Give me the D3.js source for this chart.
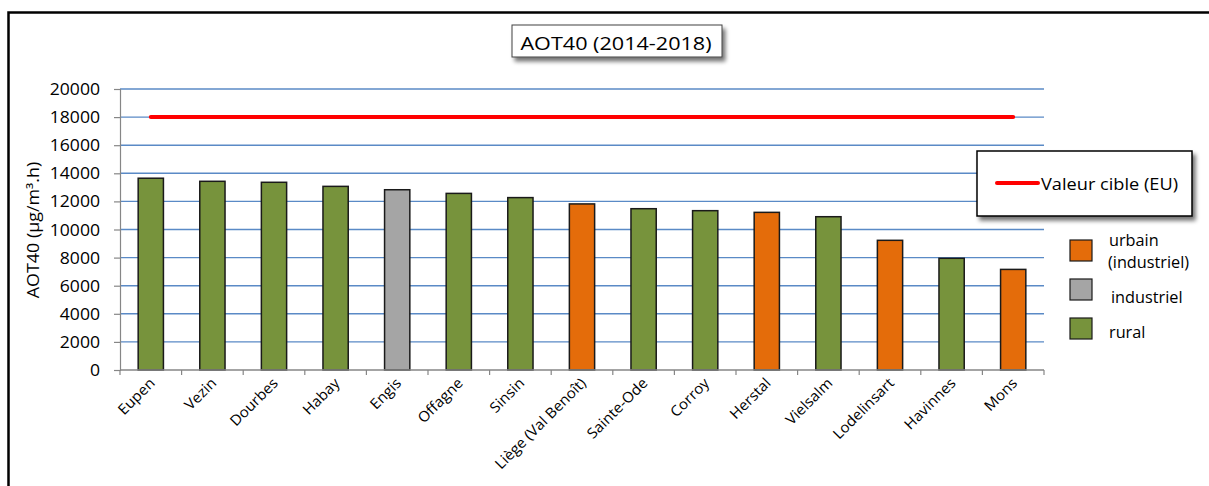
<!DOCTYPE html>
<html>
<head>
<meta charset="utf-8">
<script src="https://cdn.jsdelivr.net/npm/d3@7"></script>
<style>
  html, body { margin: 0; padding: 0; background: #fff; }
  svg { display: block; font-family: "Open Sans", Lato, sans-serif; }
</style>
</head>
<body>
<svg id="chart" width="1209" height="486"></svg>
<script>
// Stations, AOT40 values (µg/m³.h) and station type
const stations = ["Eupen", "Vezin", "Dourbes", "Habay", "Engis", "Offagne", "Sinsin",
  "Liège (Val Benoît)", "Sainte-Ode", "Corroy", "Herstal", "Vielsalm", "Lodelinsart", "Havinnes", "Mons"];
const aot40 = [13650, 13430, 13360, 13070, 12830, 12570, 12270, 11820, 11480, 11340, 11220, 10910, 9230, 7950, 7160];
const stationTypes = ["rural", "rural", "rural", "rural", "industriel", "rural", "rural",
  "urbain", "rural", "rural", "urbain", "rural", "urbain", "rural", "urbain"];
const targetValue = 18000;
const yTicks = [0, 2000, 4000, 6000, 8000, 10000, 12000, 14000, 16000, 18000, 20000];
const typeKeys = ["urbain", "industriel", "rural"];
const typeLabels = [["urbain", "(industriel)"], ["industriel"], ["rural"]];
const typeColors = ["#e46c0a", "#a5a5a5", "#77933c"];

const svg = d3.select("#chart");
const plot = { left: 120, right: 1044, top: 89, bottom: 370 };

const x = d3.scaleBand().domain(stations).range([plot.left, plot.right]).paddingInner(0.59).paddingOuter(0.295);
const xEdges = d3.scaleBand().domain(stations).range([plot.left, plot.right]);
const y = d3.scaleLinear().domain([0, 20000]).range([plot.bottom, plot.top]);
const color = d3.scaleOrdinal().domain(typeKeys).range(typeColors);

// Text helper: the chart's lettering is slightly wide, so glyphs get a horizontal stretch
function label(parent, px, py, str, size, sx, anchor = "start", rotate = 0) {
  return parent.append("text")
    .attr("transform", `translate(${px},${py}) rotate(${rotate}) scale(${sx},1)`)
    .attr("text-anchor", anchor)
    .attr("font-size", size)
    .attr("fill", "#000")
    .text(str);
}

// Drop shadow for the boxed title and legend
const defs = svg.append("defs");
const shadow = defs.append("filter").attr("id", "shadow").attr("x", "-10%").attr("y", "-20%").attr("width", "130%").attr("height", "160%");
shadow.append("feGaussianBlur").attr("in", "SourceAlpha").attr("stdDeviation", 2.2);
shadow.append("feOffset").attr("dx", 3).attr("dy", 4).attr("result", "off");
shadow.append("feComponentTransfer").append("feFuncA").attr("type", "linear").attr("slope", 0.55);
const merge = shadow.append("feMerge");
merge.append("feMergeNode");
merge.append("feMergeNode").attr("in", "SourceGraphic");

// Frame (left and top edges)
svg.append("path")
  .attr("d", "M8.5,486 L8.5,12.5 L1209,12.5")
  .attr("fill", "none").attr("stroke", "#000").attr("stroke-width", 2.5);

// Horizontal gridlines
svg.append("g").selectAll("line")
  .data(yTicks.filter(d => d > 0))
  .join("line")
  .attr("x1", plot.left).attr("x2", plot.right)
  .attr("y1", d => y(d)).attr("y2", d => y(d))
  .attr("stroke", "#5a8ac6").attr("stroke-width", 1.4);

// Y axis
const yAxis = svg.append("g")
  .attr("transform", `translate(${plot.left},0)`)
  .call(d3.axisLeft(y).tickValues(yTicks).tickSize(6).tickFormat(""));
yAxis.select(".domain").attr("stroke", "#868686").attr("stroke-width", 1.2);
yAxis.selectAll(".tick line").attr("stroke", "#868686").attr("stroke-width", 1.2);
const yLabels = svg.append("g");
yTicks.forEach(t => label(yLabels, 100, y(t) + 6, d3.format("d")(t), 16, 1.1, "end"));

// Bars
svg.append("g").selectAll("rect")
  .data(stations)
  .join("rect")
  .attr("x", d => x(d))
  .attr("width", x.bandwidth())
  .attr("y", (d, i) => y(aot40[i]))
  .attr("height", (d, i) => y(0) - y(aot40[i]))
  .attr("fill", (d, i) => color(stationTypes[i]))
  .attr("stroke", "#1a1a1a").attr("stroke-width", 1.5);

// X axis
const xAxis = svg.append("g")
  .attr("transform", `translate(0,${plot.bottom})`);
xAxis.append("line")
  .attr("x1", plot.left).attr("x2", plot.right)
  .attr("stroke", "#868686").attr("stroke-width", 1.5);
xAxis.selectAll("line.tick")
  .data(stations.map(s => xEdges(s)).concat([plot.right]))
  .join("line").attr("class", "tick")
  .attr("x1", d => d).attr("x2", d => d)
  .attr("y1", 0).attr("y2", 5)
  .attr("stroke", "#868686").attr("stroke-width", 1.2);
stations.forEach(s => label(xAxis, x(s) + x.bandwidth() / 2 + 5, 14, s, 14.5, 1.05, "end", -45));

// Target value line
svg.append("line")
  .attr("x1", x(stations[0]) + x.bandwidth() / 2)
  .attr("x2", x(stations[stations.length - 1]) + x.bandwidth() / 2)
  .attr("y1", y(targetValue)).attr("y2", y(targetValue))
  .attr("stroke", "#ff0000").attr("stroke-width", 4).attr("stroke-linecap", "round");

// Y axis title
label(svg, 39, 230, "AOT40 (µg/m³.h)", 16, 1.12, "middle", -90);

// Title box
const title = svg.append("g");
title.append("rect")
  .attr("x", 512).attr("y", 25).attr("width", 210).attr("height", 32)
  .attr("fill", "#fff").attr("stroke", "#404040").attr("stroke-width", 1)
  .attr("filter", "url(#shadow)");
label(title, 616, 50, "AOT40 (2014-2018)", 18, 1.2, "middle");

// Legend for the target line
const lineLegend = svg.append("g");
lineLegend.append("rect")
  .attr("x", 977).attr("y", 151).attr("width", 215).attr("height", 65)
  .attr("fill", "#fff").attr("stroke", "#000").attr("stroke-width", 1.5)
  .attr("filter", "url(#shadow)");
lineLegend.append("line")
  .attr("x1", 997).attr("x2", 1038).attr("y1", 183).attr("y2", 183)
  .attr("stroke", "#ff0000").attr("stroke-width", 4).attr("stroke-linecap", "round");
label(lineLegend, 1041, 190, "Valeur cible (EU)", 17, 1.07);

// Legend for station types
const typeLegend = svg.append("g");
const swatchY = [240, 279, 318];
typeKeys.forEach((k, i) => {
  typeLegend.append("rect")
    .attr("x", 1070).attr("y", swatchY[i]).attr("width", 22).attr("height", 21)
    .attr("fill", color(k)).attr("stroke", "#1a1a1a").attr("stroke-width", 1.2);
});
const typeTextY = [[246, 268], [303], [338]];
const typeTextX = [[1109, 1108], [1111], [1109]];
typeLabels.forEach((lines, i) => {
  lines.forEach((t, j) => label(typeLegend, typeTextX[i][j], typeTextY[i][j], t, 15.5, 1.05));
});
</script>
</body>
</html>
